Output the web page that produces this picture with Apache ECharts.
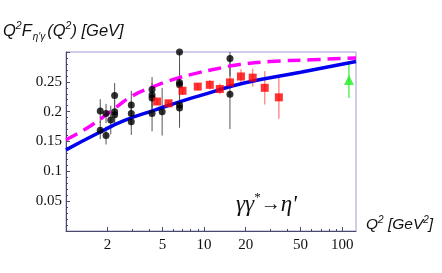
<!DOCTYPE html>
<html><head><meta charset="utf-8">
<script src="https://cdn.jsdelivr.net/npm/echarts@6/dist/echarts.min.js"></script>
<style>html,body{margin:0;padding:0;background:#fff}#c{width:442px;height:273px}</style>
</head><body><div id="c"></div>
<script>
// ---- tick values ----
const xTickValues = [2, 5, 10, 20, 50, 100];
const xMinorTickValues = [3, 4, 6, 7, 8, 9, 30, 40, 60, 70, 80, 90];

// ---- theory curves ----
const blueQ2  = [1, 1.74, 2.63, 4.44, 7.17, 9.34, 19.5, 50, 126];
const blueVal = [0.136, 0.165, 0.185, 0.203, 0.219, 0.227, 0.248, 0.266, 0.284];
const magQ2   = [1, 1.5, 2.3, 3, 4.1, 6, 9, 12.4, 18, 30, 60, 126];
const magVal  = [0.153, 0.176, 0.207, 0.226, 0.240, 0.254, 0.265, 0.272, 0.279, 0.284, 0.287, 0.290];

// ---- black data ----
const blackQ2  = [1.77, 1.77, 1.95, 1.95, 2.11, 2.25, 2.25, 2.25, 2.97, 2.97, 2.97, 4.2, 4.2, 4.2, 4.2, 4.97, 6.64, 6.64, 6.64, 6.64, 6.64, 15.4, 15.4];
const blackVal = [0.201, 0.169, 0.197, 0.160, 0.186, 0.227, 0.200, 0.195, 0.211, 0.197, 0.183, 0.237, 0.228, 0.223, 0.197, 0.200, 0.300, 0.249, 0.245, 0.211, 0.206, 0.289, 0.229];
const blackErr = [0.020, 0.015, 0.016, 0.015, 0.024, 0.021, 0.020, 0.014, 0.024, 0.020, 0.022, 0.021, 0.020, 0.020, 0.030, 0.040, 0.060, 0.030, 0.030, 0.035, 0.033, 0.030, 0.058];

// ---- red data ----
const redQ2  = [4.57, 5.53, 6.98, 9.0, 11.0, 13.0, 15.4, 18.5, 22.5, 27.5, 34.8];
const redVal = [0.217, 0.214, 0.235, 0.242, 0.245, 0.238, 0.249, 0.259, 0.257, 0.240, 0.224];
const redErr = [0.006, 0.005, 0.007, 0.006, 0.008, 0.009, 0.010, 0.012, 0.015, 0.028, 0.036];

// ---- green point ----
const greenQ2  = [112];
const greenVal = [0.253];
const greenErr = [0.030];

const axisColor = '#4a4a68';
const frameColor = '#9c9cd6';
const serif = 'serif';
const sans = 'Liberation Sans';

function errBars(q, v, e, color, width, z) {
  return {
    type: 'custom', z: z, silent: true, clip: true,
    data: q.map((x, i) => [x, v[i] - e[i], v[i] + e[i]]),
    encode: { x: 0, y: [1, 2] },
    renderItem: function (params, api) {
      const p1 = api.coord([api.value(0), api.value(1)]);
      const p2 = api.coord([api.value(0), api.value(2)]);
      return { type: 'line', shape: { x1: p1[0], y1: p1[1], x2: p2[0], y2: p2[1] },
               style: { stroke: color, lineWidth: width } };
    }
  };
}
function pairs(a, b) { return a.map((x, i) => [x, b[i]]); }

const chart = echarts.init(document.getElementById('c'), null, { renderer: 'canvas' });
chart.setOption({
  animation: false,
  textStyle: { fontFamily: serif },
  grid: { left: 66, right: 86, top: 52, bottom: 42, show: true, borderColor: frameColor, borderWidth: 1, backgroundColor: 'transparent' },
  xAxis: [{
    type: 'log', logBase: 10, min: 1, max: 126,
    axisLine: { show: true, lineStyle: { color: axisColor, width: 1 } },
    axisTick: { show: true, inside: true, length: 4, lineStyle: { color: axisColor }, customValues: xTickValues },
    axisLabel: { show: true, customValues: xTickValues, color: '#111', fontFamily: serif, fontSize: 15, margin: 7,
                 formatter: v => (v < 1.5 ? '' : String(Math.round(v))) },
    splitLine: { show: false }, minorTick: { show: false }
  }, {
    type: 'log', logBase: 10, min: 1, max: 126, position: 'bottom',
    axisLine: { show: false },
    axisTick: { show: true, inside: true, length: 2, lineStyle: { color: axisColor }, customValues: xMinorTickValues },
    axisLabel: { show: false },
    splitLine: { show: false }
  }],
  yAxis: {
    type: 'value', min: 0, max: 0.3, interval: 0.05,
    axisLine: { show: true, lineStyle: { color: axisColor, width: 1 } },
    axisTick: { show: true, inside: true, length: 4, lineStyle: { color: axisColor } },
    minorTick: { show: true, splitNumber: 5, length: 2, lineStyle: { color: axisColor } },
    axisLabel: { color: '#111', fontFamily: serif, fontSize: 15, margin: 4,
                 formatter: v => (v <= 0 || v >= 0.299) ? '' : String(+v.toFixed(2)) },
    splitLine: { show: false }
  },
  series: [
    errBars(blackQ2, blackVal, blackErr, '#555555', 1, 2),
    errBars(redQ2, redVal, redErr, '#ff9090', 1.5, 2),
    errBars(greenQ2, greenVal, greenErr, '#33ee33', 1.2, 2),
    { type: 'line', data: pairs(magQ2, magVal), smooth: true, showSymbol: false, clip: true, z: 3,
      lineStyle: { color: '#ff00ff', width: 3.5, type: [13, 7] } },
    { type: 'line', data: pairs(blueQ2, blueVal), smooth: true, showSymbol: false, clip: true, z: 3,
      lineStyle: { color: '#0000ee', width: 3.5 } },
    { type: 'scatter', data: pairs(blackQ2, blackVal), symbol: 'circle', symbolSize: 7, z: 4,
      itemStyle: { color: '#000' } },
    { type: 'scatter', data: pairs(redQ2, redVal), symbol: 'rect', symbolSize: 8, z: 4,
      itemStyle: { color: '#ff0000' } },
    { type: 'scatter', data: pairs(greenQ2, greenVal), symbol: 'triangle', symbolSize: 10, z: 4,
      itemStyle: { color: '#22ee22' } }
  ],
  graphic: [
    { type: 'text', left: 3, top: 21, z: 10,
      style: { text: "{i|Q}{sup|2}{i|F}{sub|η'γ}{i|(Q}{sup|2}{i|) [GeV]}",
        rich: {
          i: { fontFamily: sans, fontStyle: 'italic', fontSize: 16.5, fill: '#111', lineHeight: 21, verticalAlign: 'middle' },
          sup: { fontFamily: sans, fontStyle: 'italic', fontSize: 10.5, fill: '#111', lineHeight: 21, verticalAlign: 'top' },
          sub: { fontFamily: sans, fontStyle: 'italic', fontSize: 10, fill: '#111', lineHeight: 21, verticalAlign: 'bottom', padding: [0, 2, 0, 1] }
        } } },
    { type: 'text', left: 366, top: 215, z: 10,
      style: { text: '{i|Q}{sup|2}{i| [GeV}{sup|2}{i|]}',
        rich: {
          i: { fontFamily: sans, fontStyle: 'italic', fontSize: 15.5, fill: '#111', lineHeight: 20, verticalAlign: 'middle' },
          sup: { fontFamily: sans, fontStyle: 'italic', fontSize: 10, fill: '#111', lineHeight: 20, verticalAlign: 'top' }
        } } },
    { type: 'text', left: 236, top: 191, z: 10,
      style: { text: "{g|γγ}{s|*}{a|→}{g|η'}",
        rich: {
          g: { fontFamily: serif, fontStyle: 'italic', fontSize: 23, fill: '#111', lineHeight: 28, verticalAlign: 'middle' },
          s: { fontFamily: serif, fontSize: 13, fill: '#111', lineHeight: 28, verticalAlign: 'top' },
          a: { fontFamily: serif, fontSize: 20, fill: '#111', lineHeight: 28, verticalAlign: 'middle' }
        } } }
  ]
});
</script>
</body></html>
